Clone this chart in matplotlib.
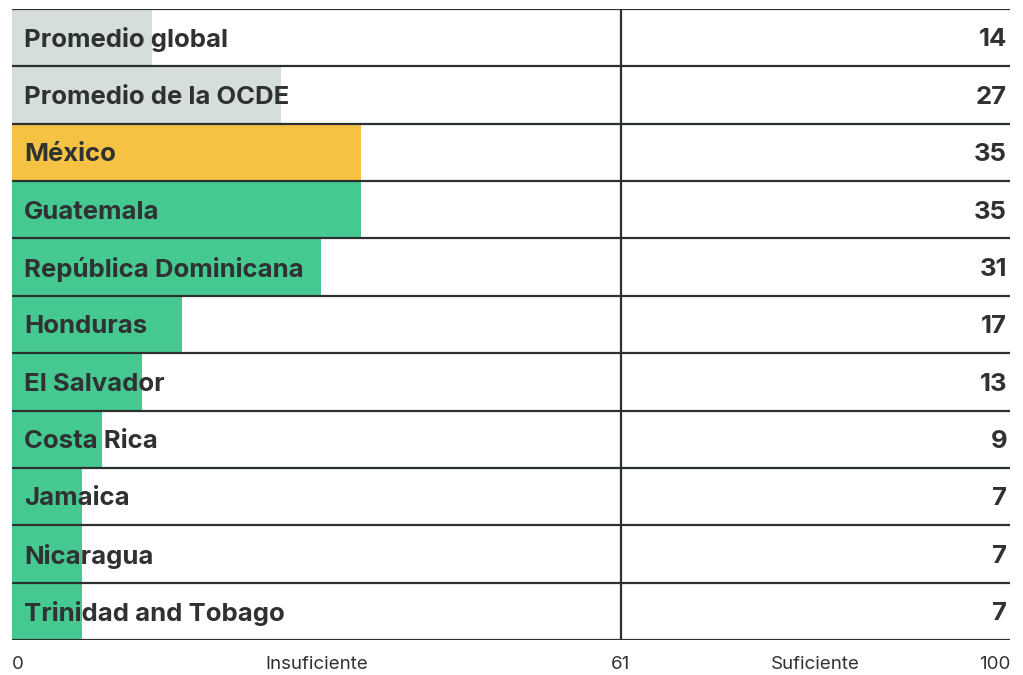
import matplotlib
matplotlib.use("Agg")
import matplotlib.pyplot as plt

# Datos
paises = ["Promedio global", "Promedio de la OCDE", "México", "Guatemala",
          "República Dominicana", "Honduras", "El Salvador", "Costa Rica",
          "Jamaica", "Nicaragua", "Trinidad and Tobago"]
valores = [14, 27, 35, 35, 31, 17, 13, 9, 7, 7, 7]
colores = ["#d5dedd", "#d5dedd", "#f5c244"] + ["#45c990"] * 8

umbral = 61
ticks_eje = [0, 61, 100]
etiquetas_tramo = ["Insuficiente", "Suficiente"]
pos_tramo = [30.5, 80.5]

texto = "#2f3133"
linea = "#2d3033"

plt.rcParams['font.family'] = ['Inter', 'DejaVu Sans']

fig = plt.figure(figsize=(10.23, 6.75), dpi=100)
ax = fig.add_axes([12 / 1023, 1 - 640 / 675, 998 / 1023, 631 / 675])

n = len(paises)
ys = list(range(n))
ax.barh(ys, valores, height=1.0, color=colores, zorder=1)

# lineas de separacion
for i in range(n + 1):
    ax.axhline(i - 0.5, color=linea, lw=1.6, zorder=3)
ax.axvline(umbral, color=linea, lw=1.6, zorder=3)

for y, nombre, v in zip(ys, paises, valores):
    ax.text(1.2, y + 0.04, nombre, va="center", ha="left", fontsize=18.5,
            fontweight="bold", color=texto, zorder=4)
    ax.text(99.7, y + 0.04, str(v), va="center", ha="right", fontsize=18.5,
            fontweight="bold", color=texto, zorder=4)

ax.set_xlim(0, 100)
ax.set_ylim(n - 0.5, -0.5)
ax.axis("off")

# eje inferior
for t, ha in zip(ticks_eje, ["left", "center", "right"]):
    ax.text(t, n - 0.5 + 0.42, str(t), ha=ha, va="center", fontsize=13.5,
            color=texto)
for p, lab in zip(pos_tramo, etiquetas_tramo):
    ax.text(p, n - 0.5 + 0.42, lab, ha="center", va="center", fontsize=13.5,
            color=texto)

fig.savefig("out.png", dpi=100, facecolor="white")
